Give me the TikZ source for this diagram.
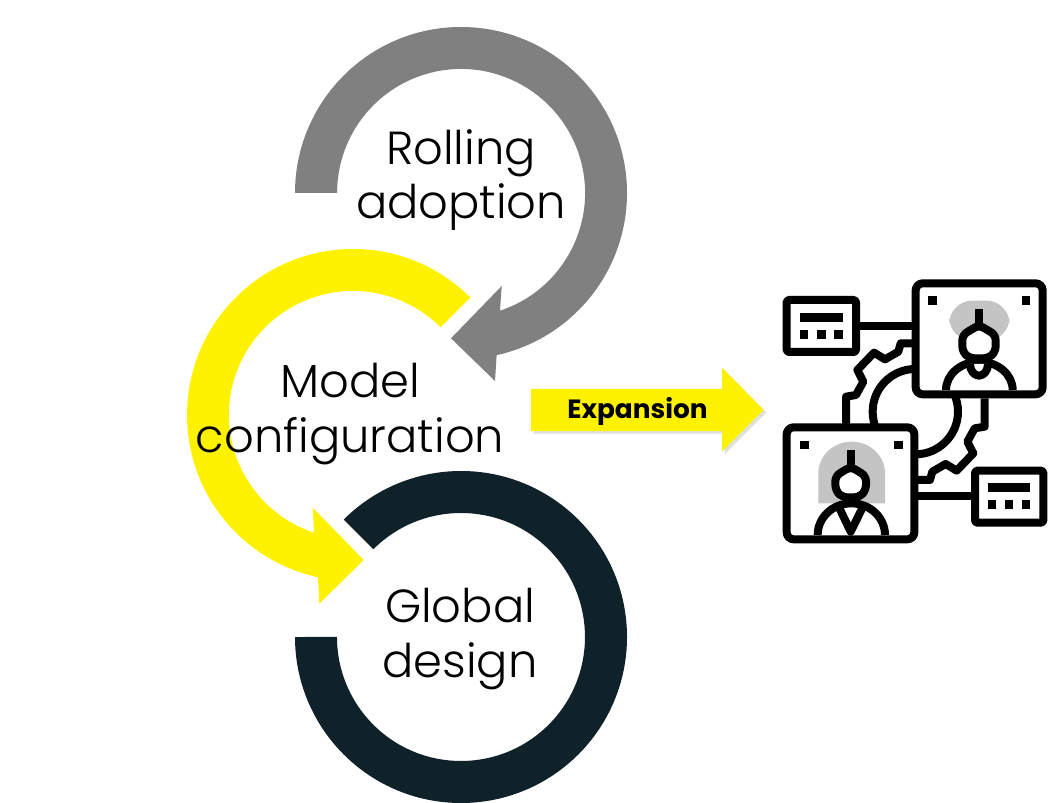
\documentclass[tikz,border=0pt]{standalone}
\usepackage{fontspec}
\setmainfont{Poppins}
\newfontfamily\ringfont{Poppins Light}
\usepackage{xcolor}
\usetikzlibrary{shadows}
\definecolor{ringgrey}{HTML}{808080}
\definecolor{ringyellow}{HTML}{FFF200}
\definecolor{ringdark}{HTML}{0F222A}
\definecolor{halogrey}{HTML}{C4C4C4}
\tikzset{
	ringtext/.style={align=center, inner sep=0pt, font=\ringfont\fontsize{26.4}{31}\selectfont},
	iconline/.style={draw=black, line width=4.55pt, line join=round},
	iconbox/.style={iconline, fill=white, rounded corners=4pt},
	smallbox/.style={iconline, fill=white, rounded corners=1pt},
	iconhead/.style={iconline, fill=white, rounded corners=3pt},
	icondot/.style={fill=black},
}
\begin{document}
\begin{tikzpicture}[x=0.02cm, y=-0.02cm]
	\useasboundingbox (0,0) rectangle (1057,803);
	% the three rings
	\fill[ringgrey] (295,193) arc[start angle=180, end angle=437.6, radius=166]
		-- (495,381) -- (451,338.3) -- (501.7,286) -- (500,310.7)
		arc[start angle=431.7, end angle=180, radius=124] -- cycle;
	\fill[ringyellow] (470.4,297.6) arc[start angle=-45, end angle=-257.8, radius=166]
		-- (319.3,603.7) -- (363.7,560) -- (312.7,507.7) -- (314,532.7)
		arc[start angle=-251.7, end angle=-45, radius=124] -- cycle;
	\fill[ringdark] (295,637) arc[start angle=180, end angle=-135, radius=166]
		-- (373.3,549.3) arc[start angle=-135, end angle=180, radius=124] -- cycle;
	\node[ringtext] (rolling) at (461,180) {Rolling\\adoption};
	\node[ringtext] (model) at (350,414) {Model\\configuration};
	\node[ringtext] (global) at (460,639) {Global\\design};
	% expansion arrow
	\fill[ringyellow, drop shadow={shadow xshift=1.5pt, shadow yshift=-1.5pt, opacity=0.25}]
		(531,389) -- (722,389) -- (722,367.7) -- (763.7,410) -- (722,451.7) -- (722,431) -- (531,431) -- cycle;
	\node[inner sep=0pt, font=\fontsize{15}{18}\bfseries\selectfont] (expansion) at (637.5,411) {Expansion};
	% icon, in a 3x grid
	\begin{scope}[shift={(770,270)}, x=0.00667cm, y=-0.00667cm]
		\draw[iconline] (436,425) circle (128);
		\draw[iconline] (430,220) -- (392,220) -- (385,245) -- (345,268) -- (312,248) -- (262,300)
			-- (280,335) -- (258,375) -- (228,380) -- (228,465);
		\draw[iconline] (442,630) -- (480,630) -- (487,605) -- (527,582) -- (560,602) -- (610,550)
			-- (592,515) -- (614,475) -- (644,470) -- (644,385);
		\draw[iconline] (270,167) -- (437,167);
		\draw[iconline] (433,677) -- (615,677);
		% upper right person
		\draw[iconbox] (437,40) rectangle (818,373);
		\fill[halogrey, rounded corners=13pt] (538,92) rectangle (718,212);
		\fill[icondot] (474,79) rectangle (500,105);
		\fill[icondot] (755,79) rectangle (781,105);
		\draw[iconline] (627,118) -- (627,165);
		\draw[iconline] (528,360) arc[start angle=180, end angle=360, x radius=100, y radius=85];
		\draw[iconline, fill=white] (600,282) arc[start angle=180, end angle=0, x radius=27, y radius=35];
		\draw[iconhead] (627,165) -- (677,195) -- (677,245) -- (655,265) -- (599,265) -- (577,245) -- (577,195) -- cycle;
		% lower left person
		\draw[iconbox] (50,472) rectangle (433,808);
		\fill[halogrey] (145,700) -- (145,610) arc[start angle=180, end angle=360, x radius=100, y radius=95] -- (345,700) -- cycle;
		\fill[icondot] (90,512) rectangle (116,538);
		\fill[icondot] (372,512) rectangle (398,538);
		\draw[iconline] (242,540) -- (242,590);
		\draw[iconline, fill=white] (143,795) arc[start angle=180, end angle=360, x radius=101, y radius=95];
		\draw[iconline] (205,708) -- (242,785) -- (280,708);
		\draw[iconhead] (242,590) -- (288,618) -- (288,660) -- (268,682) -- (216,682) -- (196,660) -- (196,618) -- cycle;
		% small boxes
		\draw[smallbox] (50,90) rectangle (258,246);
		\fill[icondot] (90,130) rectangle (218,155);
		\foreach \i in {90,142,193}
			\fill[icondot] (\i,180) rectangle +(25,26);
		\draw[smallbox] (615,602) rectangle (820,758);
		\fill[icondot] (653,640) rectangle (780,665);
		\foreach \i in {653,704,755}
			\fill[icondot] (\i,690) rectangle +(25,26);
	\end{scope}
\end{tikzpicture}
\end{document}
